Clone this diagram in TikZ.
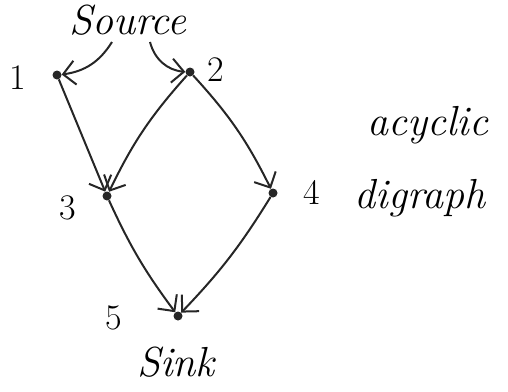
\documentclass[tikz,border=0pt]{standalone}
\usetikzlibrary{arrows.meta}
\begin{document}
\begin{tikzpicture}[x=1pt,y=-1pt,
  vtx/.style={circle,fill=black!85,inner sep=0pt,minimum size=9pt},
  lbl/.style={font=\fontsize{36}{38}\selectfont},
  big/.style={font=\fontsize{42}{46}\selectfont\itshape},
  edge/.style={draw=black!85,line width=2pt,-{Straight Barb[length=12pt,width=24pt,line width=2pt]}}]
\useasboundingbox (0,0) rectangle (508,391);
\node[vtx] (v1) at (57,75) {};
\node[vtx] (v2) at (190,72) {};
\node[vtx] (v3) at (107,196) {};
\node[vtx] (v4) at (273,193) {};
\node[vtx] (v5) at (178,316) {};
\node[lbl] (l1) at (18,78) {1};
\node[lbl] (l2) at (216,70) {2};
\node[lbl] (l3) at (68,208) {3};
\node[lbl] (l4) at (312,192) {4};
\node[lbl] (l5) at (114,318) {5};
\node[big] (src) at (128,20) {Source};
\node[big] (snk) at (176,362) {Sink};
\node[big] (ac) at (428,125) {acyclic};
\node[big] (dg) at (420,198) {digraph};
\coordinate (s1) at (112,42);
\coordinate (s2) at (150,42);
\draw[edge] (s1) to[bend left=25] (v1);
\draw[edge] (s2) to[bend right=35] (v2);
\draw[edge] (v1) -- (v3);
\draw[edge] (v2) to[bend right=8] (v3);
\draw[edge] (v2) to[bend left=8] (v4);
\draw[edge] (v3) to[bend right=6] (v5);
\draw[edge] (v4) to[bend left=6] (v5);
\end{tikzpicture}
\end{document}
